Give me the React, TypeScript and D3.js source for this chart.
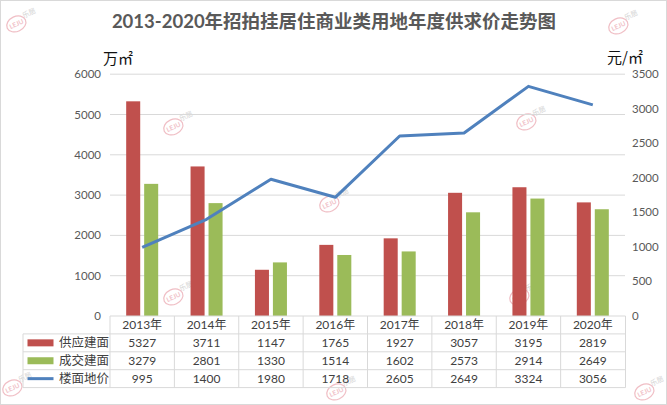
import React from 'react';
import * as d3 from 'd3';

const years = ['2013年', '2014年', '2015年', '2016年', '2017年', '2018年', '2019年', '2020年'];
const supply = [5327, 3711, 1147, 1765, 1927, 3057, 3195, 2819];
const deal = [3279, 2801, 1330, 1514, 1602, 2573, 2914, 2649];
const price = [995, 1400, 1980, 1718, 2605, 2649, 3324, 3056];
const leftTicks = [0, 1000, 2000, 3000, 4000, 5000, 6000];
const rightTicks = [0, 500, 1000, 1500, 2000, 2500, 3000, 3500];

const RED = '#C0504D';
const GREEN = '#9BBB59';
const BLUE = '#4F81BD';
const GRID = '#D9D9D9';
const FONT = "Lato, 'Noto Sans CJK SC', sans-serif";
const CJK = "'Noto Sans CJK SC', sans-serif";

const W = 667;
const H = 405;
const plot = { left: 110, right: 625, top: 74.2, bottom: 316 };
const rowH = 17.9;

// faint site watermarks
const marks: [number, number][] = [
  [20, 20], [622, 22], [177, 123], [530, 118], [333, 200],
  [177, 293], [523, 293], [16, 384], [340, 388], [648, 388],
];

function Watermark({ x, y }: { x: number; y: number }) {
  return (
    <g transform={`translate(${x},${y}) rotate(-25)`} opacity={0.55}>
      <ellipse cx={-5} cy={2} rx={10} ry={7.5} fill="none" stroke="#E58A96" strokeWidth={1.2} />
      <text x={-5} y={4.5} textAnchor="middle" fontSize={6.5} fontWeight="bold" fill="#E58A96" fontFamily={FONT}>
        LEJU
      </text>
      <text x={11} y={0} textAnchor="middle" fontSize={7} fill="#B0B0B0" fontFamily={FONT}>
        乐居
      </text>
    </g>
  );
}

export default function App() {
  const x = d3.scaleBand<string>().domain(years).range([plot.left, plot.right]).padding(0);
  const inner = d3
    .scaleBand<string>()
    .domain(['supply', 'deal'])
    .range([0, x.bandwidth()])
    .paddingInner(0.22)
    .paddingOuter(0.9);
  const yL = d3.scaleLinear().domain([0, 6000]).range([plot.bottom, plot.top]);
  const yR = d3.scaleLinear().domain([0, 3500]).range([plot.bottom, plot.top]);

  const line = d3
    .line<number>()
    .x((_, i) => (x(years[i]) as number) + x.bandwidth() / 2)
    .y((d) => yR(d));

  const tableLeft = 23;
  const rows = [
    { name: '供应建面', values: supply, kind: 'bar', color: RED },
    { name: '成交建面', values: deal, kind: 'bar', color: GREEN },
    { name: '楼面地价', values: price, kind: 'line', color: BLUE },
  ];
  const rowY = (i: number) => plot.bottom + rowH * (i + 1);
  const tableBottom = plot.bottom + rowH * 4;

  return (
    <svg width={W} height={H} style={{ position: 'absolute', left: 0, top: 0, background: '#fff' }}>
      <rect x={0.5} y={0.5} width={W - 1} height={H - 1} fill="#fff" stroke={GRID} />

      {marks.map(([mx, my], i) => (
        <Watermark key={i} x={mx} y={my} />
      ))}

      <text x={334} y={28} textAnchor="middle" fontSize={18.5} fontWeight="bold" fill="#595959" fontFamily={FONT}>
        2013-2020年招拍挂居住商业类用地年度供求价走势图
      </text>

      <text x={103} y={64} fontSize={15} fill="#111" fontFamily={CJK}>
        万㎡
      </text>
      <text x={607} y={63} fontSize={15} fill="#111" fontFamily={CJK}>
        元/㎡
      </text>

      {/* gridlines */}
      {leftTicks.slice(1).map((t) => (
        <line key={t} x1={plot.left} x2={plot.right} y1={yL(t)} y2={yL(t)} stroke={GRID} strokeWidth={1} />
      ))}

      {/* axis labels */}
      {leftTicks.map((t) => (
        <text key={t} x={101} y={yL(t)} dy="0.35em" textAnchor="end" fontSize={11.5} fill="#595959" fontFamily={FONT}>
          {t}
        </text>
      ))}
      {rightTicks.map((t) => (
        <text key={t} x={632} y={yR(t)} dy="0.35em" fontSize={11.5} fill="#595959" fontFamily={FONT}>
          {t}
        </text>
      ))}

      {/* bars */}
      {years.map((yr, i) => (
        <g key={yr} transform={`translate(${x(yr)},0)`}>
          <rect
            x={inner('supply')}
            y={yL(supply[i])}
            width={inner.bandwidth()}
            height={plot.bottom - yL(supply[i])}
            fill={RED}
          />
          <rect
            x={inner('deal')}
            y={yL(deal[i])}
            width={inner.bandwidth()}
            height={plot.bottom - yL(deal[i])}
            fill={GREEN}
          />
        </g>
      ))}

      {/* price line */}
      <path d={line(price) || ''} fill="none" stroke={BLUE} strokeWidth={3} strokeLinejoin="round" />

      {/* data table */}
      <g fontFamily={FONT} fill="#404040" fontSize={12}>
        <line x1={plot.left} x2={plot.right + 0.5} y1={plot.bottom} y2={plot.bottom} stroke={GRID} />
        {[0, 1, 2].map((i) => (
          <line key={i} x1={tableLeft} x2={plot.right + 0.5} y1={rowY(i)} y2={rowY(i)} stroke={GRID} />
        ))}
        <line x1={tableLeft} x2={plot.right + 0.5} y1={tableBottom} y2={tableBottom} stroke={GRID} />
        <line x1={tableLeft} x2={tableLeft} y1={rowY(0)} y2={tableBottom} stroke={GRID} />
        {years.map((yr) => (
          <line key={yr} x1={x(yr)} x2={x(yr)} y1={plot.bottom} y2={tableBottom} stroke={GRID} />
        ))}
        <line x1={plot.right + 0.5} x2={plot.right + 0.5} y1={plot.bottom} y2={tableBottom} stroke={GRID} />

        {years.map((yr) => (
          <text key={yr} x={(x(yr) as number) + x.bandwidth() / 2} y={plot.bottom + rowH / 2} dy="0.36em" textAnchor="middle">
            {yr}
          </text>
        ))}

        {rows.map((r, ri) => (
          <g key={r.name}>
            {r.kind === 'bar' ? (
              <rect x={27.5} y={rowY(ri) + rowH / 2 - 3.5} width={26} height={7} fill={r.color} />
            ) : (
              <line x1={27.5} x2={53.5} y1={rowY(ri) + rowH / 2} y2={rowY(ri) + rowH / 2} stroke={r.color} strokeWidth={3} />
            )}
            <text x={59} y={rowY(ri) + rowH / 2} dy="0.36em" fontSize={12.5} fontFamily={CJK}>
              {r.name}
            </text>
            {r.values.map((v, i) => (
              <text
                key={i}
                x={(x(years[i]) as number) + x.bandwidth() / 2}
                y={rowY(ri) + rowH / 2}
                dy="0.36em"
                textAnchor="middle"
              >
                {v}
              </text>
            ))}
          </g>
        ))}
      </g>
    </svg>
  );
}
